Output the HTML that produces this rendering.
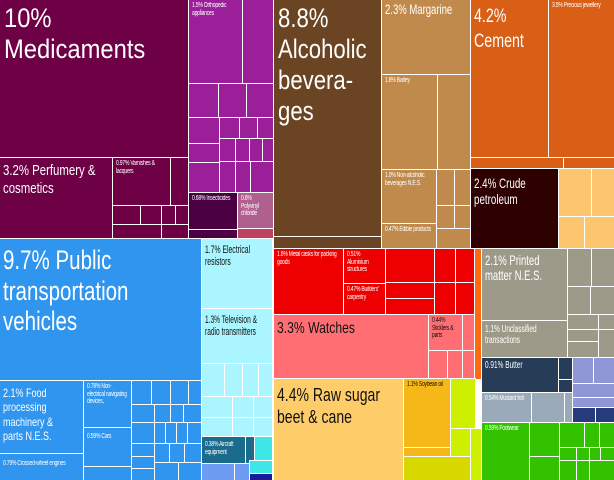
<!DOCTYPE html>
<html><head><meta charset="utf-8"><style>
body{margin:0;background:#fff}
#c{position:relative;width:614px;height:480px;overflow:hidden;background:#fff;font-family:"Liberation Sans",sans-serif}
#c div{position:absolute;box-sizing:border-box;outline:1px solid #fff;overflow:hidden;color:#fff}
#c span{display:block;transform:scaleX(var(--s,.7));transform-origin:0 0;width:calc(100% / var(--s,.7));line-height:1.1}
.t{padding:2px 3px}
.s span{font-size:7px;--s:.72;line-height:1.15;letter-spacing:-0.3px}
.d{color:#111 !important}
</style></head><body><div id="c">
<!-- purple group -->
<div style="left:0;top:0;width:188px;height:157px;background:#6e0046;padding:3px 4px" class="t"><span style="font-size:27px;--s:.88;line-height:1.15">10%<br>Medicaments</span></div>
<div style="left:0;top:158px;width:112px;height:80px;background:#6e0046;padding-top:4px" class="t"><span style="font-size:15px;--s:.76;line-height:1.2">3.2% Perfumery &amp; cosmetics</span></div>
<div style="left:113px;top:158px;width:57px;height:47px;background:#6e0046" class="t s"><span>0.97% Varnishes &amp; lacquers</span></div>
<div style="left:171px;top:158px;width:17px;height:47px;background:#6e0046"></div>
<div style="left:113px;top:206px;width:27px;height:18px;background:#6e0046"></div>
<div style="left:141px;top:206px;width:20px;height:18px;background:#6e0046"></div>
<div style="left:162px;top:206px;width:13px;height:18px;background:#6e0046"></div>
<div style="left:176px;top:206px;width:12px;height:18px;background:#6e0046"></div>
<div style="left:113px;top:225px;width:48px;height:13px;background:#6e0046"></div>
<div style="left:162px;top:225px;width:26px;height:13px;background:#6e0046"></div>
<div style="left:189px;top:0;width:53px;height:83px;background:#9b1f98" class="t s"><span>1.5% Orthopedic appliances</span></div>
<div style="left:243px;top:0;width:30px;height:83px;background:#9b1f98"></div>
<div style="left:189px;top:84px;width:29px;height:33px;background:#9b1f98"></div>
<div style="left:219px;top:84px;width:27px;height:33px;background:#9b1f98"></div>
<div style="left:247px;top:84px;width:26px;height:33px;background:#9b1f98"></div>
<div style="left:189px;top:118px;width:30px;height:25px;background:#9b1f98"></div>
<div style="left:220px;top:118px;width:19px;height:20px;background:#9b1f98"></div>
<div style="left:240px;top:118px;width:17px;height:20px;background:#9b1f98"></div>
<div style="left:258px;top:118px;width:15px;height:20px;background:#9b1f98"></div>
<div style="left:189px;top:144px;width:30px;height:18px;background:#9b1f98"></div>
<div style="left:189px;top:163px;width:30px;height:29px;background:#9b1f98"></div>
<div style="left:220px;top:139px;width:15px;height:22px;background:#9b1f98"></div>
<div style="left:236px;top:139px;width:13px;height:22px;background:#9b1f98"></div>
<div style="left:250px;top:139px;width:12px;height:22px;background:#9b1f98"></div>
<div style="left:263px;top:139px;width:10px;height:22px;background:#9b1f98"></div>
<div style="left:220px;top:162px;width:15px;height:30px;background:#9b1f98"></div>
<div style="left:236px;top:162px;width:14px;height:30px;background:#9b1f98"></div>
<div style="left:251px;top:162px;width:22px;height:30px;background:#9b1f98"></div>
<div style="left:189px;top:193px;width:48px;height:36px;background:#4a0042" class="t s"><span>0.68% Insecticides</span></div>
<div style="left:189px;top:230px;width:48px;height:8px;background:#4a0042"></div>
<div style="left:238px;top:193px;width:35px;height:35px;background:#b0608e" class="t s"><span>0.6% Polyvinyl chloride</span></div>
<div style="left:238px;top:229px;width:35px;height:9px;background:#c04060"></div>
<!-- brown group -->
<div style="left:274px;top:0;width:107px;height:236px;background:#6b4423;padding:3px 4px" class="t"><span style="font-size:27px;--s:.82;line-height:1.15">8.8%<br>Alcoholic<br>bevera-<br>ges</span></div>
<div style="left:274px;top:237px;width:107px;height:11px;background:#6b4423"></div>
<div style="left:382px;top:0;width:88px;height:74px;background:#c08a4c" class="t"><span style="font-size:14px;--s:.68">2.3% Margarine</span></div>
<div style="left:382px;top:75px;width:55px;height:94px;background:#c08a4c" class="t s"><span>1.8% Barley</span></div>
<div style="left:438px;top:75px;width:32px;height:94px;background:#c08a4c"></div>
<div style="left:382px;top:170px;width:54px;height:53px;background:#c08a4c" class="t s"><span>1.0% Non-alcoholic beverages N.E.S.</span></div>
<div style="left:382px;top:224px;width:54px;height:24px;background:#c08a4c" class="t s"><span>0.47% Edible products</span></div>
<div style="left:437px;top:170px;width:17px;height:35px;background:#c08a4c"></div>
<div style="left:455px;top:170px;width:15px;height:35px;background:#c08a4c"></div>
<div style="left:437px;top:206px;width:17px;height:22px;background:#c08a4c"></div>
<div style="left:455px;top:206px;width:15px;height:22px;background:#c08a4c"></div>
<div style="left:437px;top:229px;width:33px;height:19px;background:#c08a4c"></div>
<!-- orange -->
<div style="left:471px;top:0;width:77px;height:157px;background:#d95f16;padding-top:5px" class="t"><span style="font-size:19px;--s:.75;line-height:1.3">4.2%<br>Cement</span></div>
<div style="left:549px;top:0;width:65px;height:157px;background:#d95f16" class="t s"><span>3.5% Precious jewellery</span></div>
<div style="left:471px;top:158px;width:92px;height:10px;background:#d95f16"></div>
<div style="left:564px;top:158px;width:50px;height:10px;background:#d95f16"></div>
<div style="left:471px;top:169px;width:87px;height:79px;background:#2e0000;padding-top:6px" class="t"><span style="font-size:14px;--s:.7;line-height:1.15">2.4% Crude<br>petroleum</span></div>
<div style="left:559px;top:169px;width:32px;height:47px;background:#fdc66e"></div>
<div style="left:592px;top:169px;width:22px;height:47px;background:#fdc66e"></div>
<div style="left:559px;top:217px;width:25px;height:31px;background:#fdc66e"></div>
<div style="left:585px;top:217px;width:29px;height:31px;background:#fdc66e"></div>
<!-- blue -->
<div style="left:0;top:239px;width:201px;height:141px;background:#2f95ee;padding:6px 3px" class="t"><span style="font-size:27px;--s:.76;line-height:1.13">9.7% Public<br>transportation<br>vehicles</span></div>
<div style="left:0;top:381px;width:83px;height:72px;background:#2f95ee;padding-top:5px" class="t"><span style="font-size:12px;--s:.75;line-height:1.2">2.1% Food<br>processing<br>machinery &amp;<br>parts N.E.S.</span></div>
<div style="left:0;top:454px;width:83px;height:26px;background:#2f95ee;padding-top:6px" class="t s"><span>0.79% Crossed-wheel engines</span></div>
<div style="left:84px;top:381px;width:47px;height:46px;background:#2f95ee" class="t s"><span>0.78% Non-electrical navigating devices,</span></div>
<div style="left:84px;top:428px;width:47px;height:38px;background:#2f95ee;padding-top:5px" class="t s"><span>0.59% Cars</span></div>
<div style="left:84px;top:467px;width:47px;height:13px;background:#2f95ee"></div>
<div style="left:132px;top:381px;width:19px;height:23px;background:#2f95ee"></div>
<div style="left:152px;top:381px;width:18px;height:23px;background:#2f95ee"></div>
<div style="left:171px;top:381px;width:17px;height:23px;background:#2f95ee"></div>
<div style="left:189px;top:381px;width:12px;height:23px;background:#2f95ee"></div>
<div style="left:132px;top:405px;width:22px;height:17px;background:#2f95ee"></div>
<div style="left:155px;top:405px;width:15px;height:17px;background:#2f95ee"></div>
<div style="left:171px;top:405px;width:12px;height:17px;background:#2f95ee"></div>
<div style="left:184px;top:405px;width:17px;height:17px;background:#2f95ee"></div>
<div style="left:132px;top:423px;width:22px;height:20px;background:#2f95ee"></div>
<div style="left:155px;top:423px;width:10px;height:20px;background:#2f95ee"></div>
<div style="left:166px;top:423px;width:10px;height:20px;background:#2f95ee"></div>
<div style="left:177px;top:423px;width:10px;height:20px;background:#2f95ee"></div>
<div style="left:188px;top:423px;width:13px;height:20px;background:#2f95ee"></div>
<div style="left:132px;top:444px;width:22px;height:12px;background:#2f95ee"></div>
<div style="left:132px;top:457px;width:22px;height:11px;background:#2f95ee"></div>
<div style="left:132px;top:469px;width:22px;height:11px;background:#2f95ee"></div>
<div style="left:155px;top:444px;width:14px;height:18px;background:#2f95ee"></div>
<div style="left:170px;top:444px;width:14px;height:18px;background:#2f95ee"></div>
<div style="left:185px;top:444px;width:16px;height:18px;background:#2f95ee"></div>
<div style="left:155px;top:463px;width:23px;height:17px;background:#2f95ee"></div>
<div style="left:179px;top:463px;width:22px;height:17px;background:#2f95ee"></div>
<!-- cyan -->
<div style="left:202px;top:239px;width:70px;height:69px;background:#aaf5ff;padding-top:5px" class="t d"><span style="font-size:11px;--s:.62;line-height:1.1">1.7% Electrical<br>resistors</span></div>
<div style="left:202px;top:309px;width:70px;height:54px;background:#aaf5ff;padding-top:5px" class="t d"><span style="font-size:11px;--s:.6;line-height:1.1">1.3% Television &amp;<br>radio transmitters</span></div>
<div style="left:202px;top:364px;width:22px;height:32px;background:#aaf5ff"></div>
<div style="left:225px;top:364px;width:17px;height:32px;background:#aaf5ff"></div>
<div style="left:243px;top:364px;width:15px;height:32px;background:#aaf5ff"></div>
<div style="left:259px;top:364px;width:13px;height:32px;background:#aaf5ff"></div>
<div style="left:202px;top:397px;width:30px;height:20px;background:#aaf5ff"></div>
<div style="left:233px;top:397px;width:20px;height:20px;background:#aaf5ff"></div>
<div style="left:254px;top:397px;width:18px;height:20px;background:#aaf5ff"></div>
<div style="left:202px;top:418px;width:30px;height:18px;background:#aaf5ff"></div>
<div style="left:233px;top:418px;width:20px;height:18px;background:#aaf5ff"></div>
<div style="left:254px;top:418px;width:18px;height:18px;background:#aaf5ff"></div>
<div style="left:202px;top:437px;width:43px;height:26px;background:#1a6b8c;padding-top:4px" class="t s"><span>0.38% Aircraft equipment</span></div>
<div style="left:246px;top:437px;width:8px;height:26px;background:#1a6b8c"></div>
<div style="left:255px;top:437px;width:17px;height:23px;background:#3ee6e6"></div>
<div style="left:202px;top:464px;width:32px;height:16px;background:#6d9cf2"></div>
<div style="left:235px;top:464px;width:14px;height:16px;background:#6d9cf2"></div>
<div style="left:250px;top:461px;width:22px;height:12px;background:#3ee6e6"></div>
<div style="left:250px;top:474px;width:22px;height:6px;background:#1a1a9a"></div>
<!-- red -->
<div style="left:274px;top:249px;width:69px;height:65px;background:#ee0000" class="t s"><span>1.6% Metal casks for packing goods</span></div>
<div style="left:344px;top:249px;width:41px;height:34px;background:#ee0000" class="t s"><span>0.51% Aluminium structures</span></div>
<div style="left:344px;top:284px;width:41px;height:30px;background:#ee0000" class="t s"><span>0.47% Builders' carpentry</span></div>
<div style="left:386px;top:249px;width:48px;height:33px;background:#ee0000"></div>
<div style="left:435px;top:249px;width:20px;height:33px;background:#ee0000"></div>
<div style="left:456px;top:249px;width:18px;height:33px;background:#ee0000"></div>
<div style="left:386px;top:283px;width:48px;height:15px;background:#ee0000"></div>
<div style="left:386px;top:299px;width:48px;height:15px;background:#ee0000"></div>
<div style="left:435px;top:283px;width:20px;height:31px;background:#ee0000"></div>
<div style="left:456px;top:283px;width:18px;height:31px;background:#ee0000"></div>
<div style="left:274px;top:315px;width:154px;height:63px;background:#ff6e73;padding-top:5px" class="t d"><span style="font-size:16px;--s:.76">3.3% Watches</span></div>
<div style="left:429px;top:315px;width:33px;height:35px;background:#ff6e73" class="t s d"><span>0.44% Sticklers &amp; parts</span></div>
<div style="left:463px;top:315px;width:11px;height:35px;background:#ff6e73"></div>
<div style="left:429px;top:351px;width:18px;height:27px;background:#ff6e73"></div>
<div style="left:448px;top:351px;width:14px;height:27px;background:#ff6e73"></div>
<div style="left:463px;top:351px;width:11px;height:27px;background:#ff6e73"></div>
<div style="left:475px;top:249px;width:6px;height:130px;background:#ff6a10"></div>
<!-- yellow -->
<div style="left:274px;top:379px;width:129px;height:101px;background:#ffcc6a;padding-top:6px" class="t d"><span style="font-size:18px;--s:.78;line-height:1.2">4.4% Raw sugar<br>beet &amp; cane</span></div>
<div style="left:404px;top:379px;width:46px;height:68px;background:#f5b818" class="t s d"><span>1.1% Soybean oil</span></div>
<div style="left:404px;top:448px;width:46px;height:8px;background:#f5b818"></div>
<div style="left:451px;top:379px;width:24px;height:49px;background:#ccf000"></div>
<div style="left:451px;top:429px;width:24px;height:27px;background:#ccf000"></div>
<div style="left:404px;top:457px;width:66px;height:23px;background:#d8d800"></div>
<div style="left:471px;top:429px;width:10px;height:51px;background:#ccf000"></div>
<!-- gray -->
<div style="left:482px;top:249px;width:85px;height:71px;background:#9e9a8a;padding-top:4px" class="t"><span style="font-size:14px;--s:.68;line-height:1.1">2.1% Printed<br>matter N.E.S.</span></div>
<div style="left:482px;top:321px;width:85px;height:36px;background:#9e9a8a;padding-top:3px" class="t"><span style="font-size:10px;--s:.65">1.1% Unclassified<br>transactions</span></div>
<div style="left:568px;top:249px;width:23px;height:37px;background:#9e9a8a"></div>
<div style="left:592px;top:249px;width:22px;height:37px;background:#9e9a8a"></div>
<div style="left:568px;top:287px;width:22px;height:27px;background:#9e9a8a"></div>
<div style="left:591px;top:287px;width:23px;height:27px;background:#9e9a8a"></div>
<div style="left:568px;top:315px;width:30px;height:14px;background:#9e9a8a"></div>
<div style="left:599px;top:315px;width:15px;height:14px;background:#9e9a8a"></div>
<div style="left:568px;top:330px;width:30px;height:11px;background:#9e9a8a"></div>
<div style="left:568px;top:342px;width:30px;height:15px;background:#9e9a8a"></div>
<div style="left:599px;top:330px;width:15px;height:27px;background:#9e9a8a"></div>
<!-- navy -->
<div style="left:482px;top:358px;width:76px;height:34px;background:#263c57" class="t"><span style="font-size:10px;--s:.65">0.91% Butter</span></div>
<div style="left:559px;top:358px;width:13px;height:21px;background:#263c57"></div>
<div style="left:559px;top:380px;width:13px;height:12px;background:#263c57"></div>
<div style="left:482px;top:393px;width:49px;height:29px;background:#9aaab8" class="t s"><span>0.54% Mustard fish</span></div>
<div style="left:532px;top:393px;width:32px;height:29px;background:#9aaab8"></div>
<div style="left:565px;top:393px;width:8px;height:29px;background:#9aaab8"></div>
<div style="left:573px;top:358px;width:20px;height:25px;background:#8f97d6"></div>
<div style="left:594px;top:358px;width:20px;height:25px;background:#8f97d6"></div>
<div style="left:573px;top:384px;width:41px;height:13px;background:#8f97d6"></div>
<div style="left:573px;top:398px;width:41px;height:9px;background:#8f97d6"></div>
<div style="left:573px;top:408px;width:22px;height:14px;background:#263c7a"></div>
<div style="left:596px;top:408px;width:18px;height:14px;background:#263c7a"></div>
<!-- green -->
<div style="left:482px;top:423px;width:47px;height:57px;background:#33c200" class="t s"><span>0.59% Footwear</span></div>
<div style="left:530px;top:423px;width:29px;height:33px;background:#33c200"></div>
<div style="left:530px;top:457px;width:29px;height:23px;background:#33c200"></div>
<div style="left:560px;top:423px;width:24px;height:24px;background:#33c200"></div>
<div style="left:585px;top:423px;width:14px;height:24px;background:#33c200"></div>
<div style="left:600px;top:423px;width:14px;height:24px;background:#33c200"></div>
<div style="left:560px;top:448px;width:16px;height:12px;background:#33c200"></div>
<div style="left:577px;top:448px;width:12px;height:12px;background:#33c200"></div>
<div style="left:590px;top:448px;width:10px;height:12px;background:#33c200"></div>
<div style="left:601px;top:448px;width:13px;height:12px;background:#33c200"></div>
<div style="left:560px;top:461px;width:16px;height:19px;background:#33c200"></div>
<div style="left:577px;top:461px;width:12px;height:19px;background:#33c200"></div>
<div style="left:590px;top:461px;width:24px;height:19px;background:#33c200"></div>
</div></body></html>
